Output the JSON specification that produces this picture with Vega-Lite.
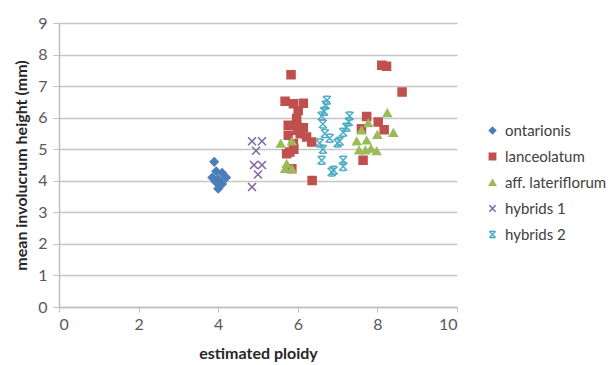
{
  "$schema": "https://vega.github.io/schema/vega-lite/v6.json",
  "width": 398,
  "height": 284,
  "autosize": {"type": "none"},
  "padding": {"left": 59, "top": 23, "right": 157, "bottom": 58},
  "background": "white",
  "config": {
    "font": "Lato",
    "view": {"stroke": null},
    "axis": {"labelFont": "Lato", "titleFont": "Lato"}
  },
  "data": {
    "values": [
      {"species": "ontarionis", "ploidy": 3.9, "height": 4.6},
      {"species": "ontarionis", "ploidy": 3.95, "height": 4.3},
      {"species": "ontarionis", "ploidy": 4.1, "height": 4.25},
      {"species": "ontarionis", "ploidy": 3.85, "height": 4.1},
      {"species": "ontarionis", "ploidy": 4.0, "height": 4.05},
      {"species": "ontarionis", "ploidy": 4.2, "height": 4.1},
      {"species": "ontarionis", "ploidy": 3.95, "height": 3.95},
      {"species": "ontarionis", "ploidy": 4.1, "height": 3.9},
      {"species": "ontarionis", "ploidy": 4.0, "height": 3.75},

      {"species": "lanceolatum", "ploidy": 5.83, "height": 7.36},
      {"species": "lanceolatum", "ploidy": 8.11, "height": 7.66},
      {"species": "lanceolatum", "ploidy": 8.23, "height": 7.63},
      {"species": "lanceolatum", "ploidy": 8.62, "height": 6.81},
      {"species": "lanceolatum", "ploidy": 5.68, "height": 6.52},
      {"species": "lanceolatum", "ploidy": 5.89, "height": 6.44},
      {"species": "lanceolatum", "ploidy": 6.14, "height": 6.46},
      {"species": "lanceolatum", "ploidy": 6.01, "height": 6.23},
      {"species": "lanceolatum", "ploidy": 5.97, "height": 5.97},
      {"species": "lanceolatum", "ploidy": 5.76, "height": 5.76},
      {"species": "lanceolatum", "ploidy": 5.97, "height": 5.76},
      {"species": "lanceolatum", "ploidy": 6.14, "height": 5.68},
      {"species": "lanceolatum", "ploidy": 5.76, "height": 5.44},
      {"species": "lanceolatum", "ploidy": 6.06, "height": 5.49},
      {"species": "lanceolatum", "ploidy": 6.22, "height": 5.39},
      {"species": "lanceolatum", "ploidy": 6.35, "height": 5.23},
      {"species": "lanceolatum", "ploidy": 5.89, "height": 5.18},
      {"species": "lanceolatum", "ploidy": 5.72, "height": 4.86},
      {"species": "lanceolatum", "ploidy": 5.8, "height": 4.91},
      {"species": "lanceolatum", "ploidy": 5.85, "height": 4.38},
      {"species": "lanceolatum", "ploidy": 6.36, "height": 4.01},
      {"species": "lanceolatum", "ploidy": 7.73, "height": 6.04},
      {"species": "lanceolatum", "ploidy": 8.02, "height": 5.86},
      {"species": "lanceolatum", "ploidy": 7.6, "height": 5.65},
      {"species": "lanceolatum", "ploidy": 8.17, "height": 5.62},
      {"species": "lanceolatum", "ploidy": 7.64, "height": 4.65},
      {"species": "lanceolatum", "ploidy": 6.0, "height": 5.6},
      {"species": "lanceolatum", "ploidy": 5.9, "height": 5.0},

      {"species": "aff. lateriflorum", "ploidy": 5.57, "height": 5.18},
      {"species": "aff. lateriflorum", "ploidy": 5.85, "height": 5.25},
      {"species": "aff. lateriflorum", "ploidy": 5.72, "height": 4.54},
      {"species": "aff. lateriflorum", "ploidy": 5.68, "height": 4.38},
      {"species": "aff. lateriflorum", "ploidy": 5.85, "height": 4.38},
      {"species": "aff. lateriflorum", "ploidy": 8.25, "height": 6.15},
      {"species": "aff. lateriflorum", "ploidy": 7.77, "height": 5.83},
      {"species": "aff. lateriflorum", "ploidy": 7.6, "height": 5.6},
      {"species": "aff. lateriflorum", "ploidy": 8.0, "height": 5.46},
      {"species": "aff. lateriflorum", "ploidy": 8.4, "height": 5.52},
      {"species": "aff. lateriflorum", "ploidy": 7.48, "height": 5.25},
      {"species": "aff. lateriflorum", "ploidy": 7.73, "height": 5.28},
      {"species": "aff. lateriflorum", "ploidy": 7.54, "height": 4.97},
      {"species": "aff. lateriflorum", "ploidy": 7.7, "height": 4.97},
      {"species": "aff. lateriflorum", "ploidy": 7.84, "height": 5.02},
      {"species": "aff. lateriflorum", "ploidy": 7.98, "height": 4.94},

      {"species": "hybrids 1", "ploidy": 4.85, "height": 5.25},
      {"species": "hybrids 1", "ploidy": 5.1, "height": 5.25},
      {"species": "hybrids 1", "ploidy": 4.95, "height": 4.95},
      {"species": "hybrids 1", "ploidy": 4.9, "height": 4.5},
      {"species": "hybrids 1", "ploidy": 5.1, "height": 4.5},
      {"species": "hybrids 1", "ploidy": 5.0, "height": 4.2},
      {"species": "hybrids 1", "ploidy": 4.85, "height": 3.8},

      {"species": "hybrids 2", "ploidy": 6.73, "height": 6.55},
      {"species": "hybrids 2", "ploidy": 6.7, "height": 6.4},
      {"species": "hybrids 2", "ploidy": 6.66, "height": 6.2},
      {"species": "hybrids 2", "ploidy": 6.6, "height": 6.05},
      {"species": "hybrids 2", "ploidy": 6.63, "height": 5.8},
      {"species": "hybrids 2", "ploidy": 6.68, "height": 5.5},
      {"species": "hybrids 2", "ploidy": 6.8, "height": 5.35},
      {"species": "hybrids 2", "ploidy": 6.55, "height": 5.2},
      {"species": "hybrids 2", "ploidy": 6.63, "height": 5.0},
      {"species": "hybrids 2", "ploidy": 6.6, "height": 4.65},
      {"species": "hybrids 2", "ploidy": 6.85, "height": 4.28},
      {"species": "hybrids 2", "ploidy": 6.9, "height": 4.33},
      {"species": "hybrids 2", "ploidy": 7.0, "height": 5.2},
      {"species": "hybrids 2", "ploidy": 7.3, "height": 6.05},
      {"species": "hybrids 2", "ploidy": 7.28, "height": 5.87},
      {"species": "hybrids 2", "ploidy": 7.22, "height": 5.7},
      {"species": "hybrids 2", "ploidy": 7.14, "height": 5.54},
      {"species": "hybrids 2", "ploidy": 7.05, "height": 5.25},
      {"species": "hybrids 2", "ploidy": 7.14, "height": 4.65},
      {"species": "hybrids 2", "ploidy": 7.14, "height": 4.45}
    ]
  },
  "mark": {"type": "point", "filled": true, "opacity": 1, "size": 64, "strokeWidth": 1.5},
  "encoding": {
    "x": {
      "field": "ploidy", "type": "quantitative",
      "scale": {"domain": [0, 10], "nice": false, "zero": true},
      "axis": {
        "values": [0, 2, 4, 6, 8, 10],
        "title": "estimated ploidy",
        "titleFontSize": 16, "titleFontWeight": "bold", "titleColor": "#262626",
        "titlePadding": 13,
        "labelFontSize": 16, "labelColor": "#595959", "labelPadding": 4,
        "grid": false, "domainColor": "#bfbfbf", "tickColor": "#bfbfbf", "tickSize": 5,
        "domainWidth": 1.5
      }
    },
    "y": {
      "field": "height", "type": "quantitative",
      "scale": {"domain": [0, 9], "nice": false},
      "axis": {
        "values": [0, 1, 2, 3, 4, 5, 6, 7, 8, 9],
        "title": "mean involucrum height (mm)",
        "titleFontSize": 16, "titleFontWeight": "bold", "titleColor": "#262626",
        "titlePadding": 8,
        "labelFontSize": 16, "labelColor": "#595959", "labelPadding": 6,
        "grid": true, "gridColor": "#c6c6c6", "gridWidth": 1.5,
        "domainColor": "#bfbfbf", "tickColor": "#bfbfbf", "tickSize": 6,
        "domainWidth": 1.5
      }
    },
    "color": {
      "field": "species", "type": "nominal",
      "scale": {
        "domain": ["ontarionis", "lanceolatum", "aff. lateriflorum", "hybrids 1", "hybrids 2"],
        "range": ["#4a7ebb", "#c0504d", "#9bbb59", "#8064a2", "#4bacc6"]
      },
      "legend": {
        "title": null, "orient": "none", "legendX": 426, "legendY": 100,
        "labelFontSize": 15, "labelColor": "#404040", "symbolSize": 40,
        "rowPadding": 10, "labelOffset": 5
      }
    },
    "stroke": {
      "field": "species", "type": "nominal",
      "scale": {
        "domain": ["ontarionis", "lanceolatum", "aff. lateriflorum", "hybrids 1", "hybrids 2"],
        "range": ["#4a7ebb", "#c0504d", "#9bbb59", "#8064a2", "#4bacc6"]
      },
      "legend": null
    },
    "shape": {
      "field": "species", "type": "nominal",
      "scale": {
        "domain": ["ontarionis", "lanceolatum", "aff. lateriflorum", "hybrids 1", "hybrids 2"],
        "range": ["diamond", "square", "triangle-up", "M-1,-1L1,1M1,-1L-1,1", "M-1,-1L1,1M1,-1L-1,1M-0.7,-1H0.7M-0.7,1H0.7"]
      },
      "legend": null
    }
  }
}
